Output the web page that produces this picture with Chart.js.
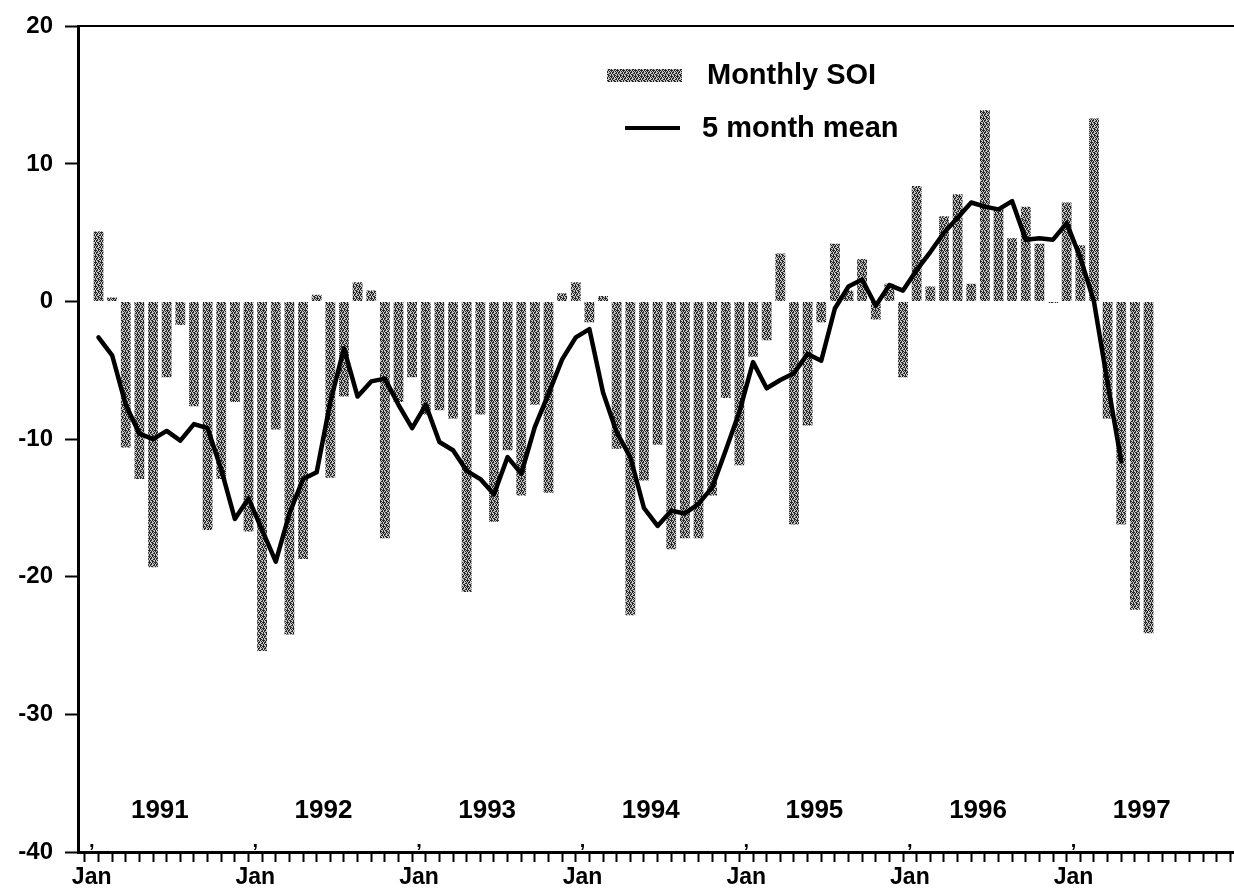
<!DOCTYPE html>
<html>
<head>
<meta charset="utf-8">
<script src="https://cdn.jsdelivr.net/npm/chart.js@4.4.1/dist/chart.umd.min.js"></script>
<style>
  html, body { margin: 0; padding: 0; background: #fff; overflow: hidden; }
  #wrap { width: 1250px; height: 900px; }
</style>
</head>
<body>
<div id="wrap"><canvas id="soi-chart" width="1250" height="900"></canvas></div>
<script>
// Southern Oscillation Index, monthly values Jan 1991 - Jun 1997
const years = ['1991', '1992', '1993', '1994', '1995', '1996', '1997'];
const monthTicks = ['Jan', '', '', '', '', '', '', '', '', '', '', ''];

const monthlySOI = [
  5.1, 0.3, -10.6, -12.9, -19.3, -5.5, -1.7, -7.6, -16.6, -12.9, -7.3, -16.7,
  -25.4, -9.3, -24.2, -18.7, 0.5, -12.8, -6.9, 1.4, 0.8, -17.2, -7.3, -5.5,
  -8.2, -7.9, -8.5, -21.1, -8.2, -16.0, -10.8, -14.1, -7.5, -13.9, 0.6, 1.4,
  -1.5, 0.4, -10.7, -22.8, -13.0, -10.4, -18.0, -17.2, -17.2, -14.1, -7.0, -11.9,
  -4.0, -2.8, 3.5, -16.2, -9.0, -1.5, 4.2, 0.8, 3.1, -1.3, 1.3, -5.5,
  8.4, 1.1, 6.2, 7.8, 1.3, 13.9, 6.8, 4.6, 6.9, 4.2, -0.1, 7.2,
  4.1, 13.3, -8.5, -16.2, -22.4, -24.1
];

const fiveMonthMean = [
  -2.6, -3.9, -7.5, -9.6, -10.0, -9.4, -10.1, -8.9, -9.2, -12.2, -15.8, -14.3,
  -16.6, -18.9, -15.4, -12.9, -12.4, -7.3, -3.4, -6.9, -5.8, -5.6, -7.5, -9.2,
  -7.5, -10.2, -10.8, -12.3, -12.9, -14.0, -11.3, -12.5, -9.1, -6.7, -4.2, -2.6,
  -2.0, -6.6, -9.5, -11.3, -15.0, -16.3, -15.2, -15.4, -14.7, -13.5, -10.8, -8.0,
  -4.4, -6.3, -5.7, -5.2, -3.8, -4.3, -0.5, 1.1, 1.6, -0.3, 1.2, 0.8,
  2.3, 3.6, 5.0, 6.1, 7.2, 6.9, 6.7, 7.3, 4.5, 4.6, 4.5, 5.7,
  3.2, 0.0, -5.9, -11.6
];

const FONT = '"Liberation Sans", Arial, sans-serif';

// speckled grey fill like the scanned bars
function makeStipple(ctx) {
  const rows = [
    'XX..X.',
    'X..XX.',
    '.XX..X',
    '..XX.X',
    'X.X.XX',
    '.X.X.X'
  ];
  const c = document.createElement('canvas');
  c.width = 6; c.height = 6;
  const g = c.getContext('2d');
  g.fillStyle = '#c6c6c6';
  g.fillRect(0, 0, 6, 6);
  g.fillStyle = '#262626';
  rows.forEach((r, y) => {
    for (let x = 0; x < r.length; x++) if (r[x] === 'X') g.fillRect(x, y, 1, 1);
  });
  return ctx.createPattern(c, 'repeat');
}

const ctx = document.getElementById('soi-chart').getContext('2d');
const stipple = makeStipple(ctx);

// year names, Jan marks and the legend drawn on top of the plot
const extras = {
  id: 'extras',
  afterDatasetsDraw(chart) {
    const { ctx, scales: { x, y } } = chart;
    ctx.save();
    ctx.fillStyle = '#000';
    ctx.textAlign = 'center';
    ctx.textBaseline = 'middle';
    ctx.font = 'bold 26px ' + FONT;
    years.forEach((yr, k) => {
      ctx.fillText(yr, x.getPixelForValue(k * 12 + 5), y.getPixelForValue(-37));
    });
    ctx.font = 'bold 20px ' + FONT;
    years.forEach((yr, k) => {
      ctx.fillText(',', x.getPixelForValue(k * 12), y.getPixelForValue(-39.2));
    });

    const ds = chart.data.datasets;
    ctx.textAlign = 'left';
    ctx.font = 'bold 29px ' + FONT;
    ctx.fillStyle = stipple;
    ctx.fillRect(607, 69, 75, 13);
    ctx.fillStyle = '#000';
    ctx.fillText(ds[1].label, 707, 76);
    ctx.strokeStyle = '#000';
    ctx.lineWidth = 4;
    ctx.beginPath();
    ctx.moveTo(625, 128);
    ctx.lineTo(680, 128);
    ctx.stroke();
    ctx.fillText(ds[0].label, 702, 129);
    ctx.restore();
  }
};

const config = {
  type: 'bar',
  data: {
    datasets: [
      {
        type: 'line',
        label: '5 month mean',
        data: fiveMonthMean.map((v, i) => ({ x: i + 0.5, y: v })),
        borderColor: '#000',
        borderWidth: 4.5,
        pointRadius: 0,
        tension: 0,
        borderJoinStyle: 'round',
        borderCapStyle: 'round',
        order: 0
      },
      {
        type: 'bar',
        label: 'Monthly SOI',
        data: monthlySOI.map((v, i) => ({ x: i + 0.5, y: v })),
        backgroundColor: stipple,
        borderWidth: 0,
        barPercentage: 0.72,
        categoryPercentage: 1,
        order: 1
      }
    ]
  },
  options: {
    responsive: false,
    animation: false,
    devicePixelRatio: 1,
    layout: { padding: { top: 24, right: 6, bottom: 0, left: 0 } },
    plugins: { legend: { display: false }, tooltip: { enabled: false } },
    scales: {
      x: {
        type: 'linear',
        position: 'bottom',
        min: -0.5,
        max: 84,
        afterFit(s) { s.height = 48; },
        border: { display: true, color: '#000', width: 3 },
        grid: { display: true, drawOnChartArea: false, drawTicks: true, tickLength: 10, tickWidth: 2, tickColor: '#000' },
        ticks: {
          stepSize: 1,
          maxTicksLimit: 200,
          includeBounds: false,
          autoSkip: false,
          maxRotation: 0,
          padding: 2,
          color: '#000',
          font: { family: FONT, size: 23, weight: 'bold' },
          callback: (v) => (Number.isInteger(v) && v >= 0 && v < 84) ? monthTicks[v % 12] : ''
        }
      },
      xTop: {
        type: 'linear',
        position: 'top',
        min: -0.5,
        max: 84,
        afterFit(s) { s.height = 0; },
        border: { display: true, color: '#000', width: 2 },
        grid: { display: false, drawOnChartArea: false, drawTicks: false },
        ticks: { display: false }
      },
      y: {
        min: -40,
        max: 20,
        afterFit(s) { s.width = 78; },
        border: { display: true, color: '#000', width: 3 },
        grid: { display: true, drawOnChartArea: false, drawTicks: true, tickLength: 13, tickWidth: 2, tickColor: '#000' },
        ticks: {
          stepSize: 10,
          padding: 12,
          color: '#000',
          font: { family: FONT, size: 24, weight: 'bold' }
        }
      }
    }
  },
  plugins: [extras]
};

new Chart(ctx, config);
</script>
</body>
</html>
